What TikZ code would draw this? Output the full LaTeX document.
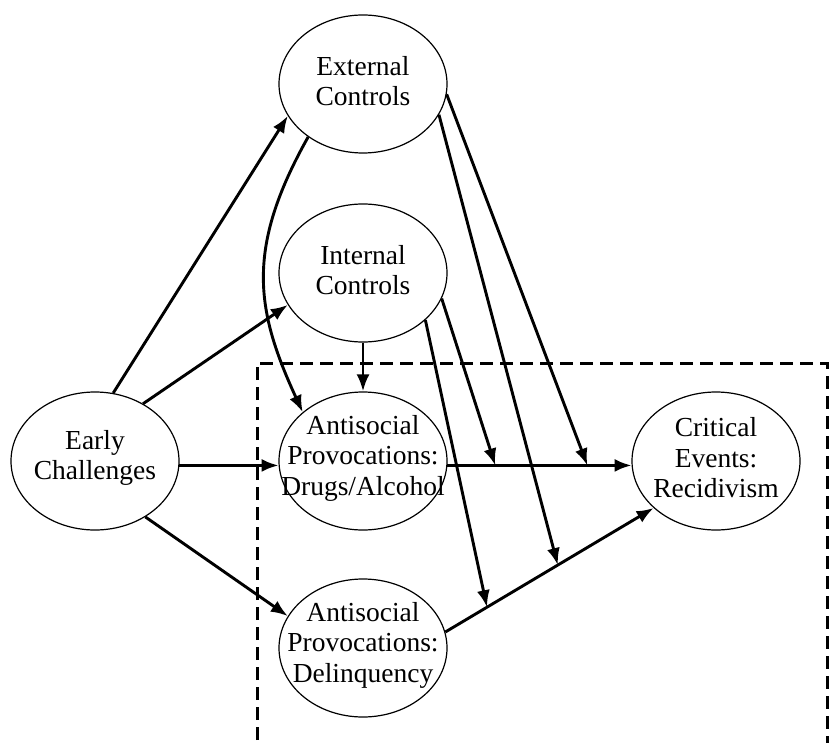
\documentclass[tikz,border=0pt]{standalone}
\usepackage{fontspec}
\setmainfont{Liberation Serif}
\usetikzlibrary{shapes.geometric,arrows.meta}
\begin{document}
\begin{tikzpicture}[x=1pt,y=-1pt,
 ell/.style={draw, ellipse, line width=1.2pt, minimum width=168pt, minimum height=138pt, inner sep=0pt},
 lbl/.style={align=center, font=\fontsize{27.5}{30.5}\selectfont, inner sep=0pt, yshift=3pt},
 arr/.style={line width=2.9pt, -{Latex[length=17pt,width=13pt]}},
 box/.style={line width=3pt, dash pattern=on 13pt off 7pt}]
\useasboundingbox (0,0) rectangle (829,743);
% dashed frame
\draw[box] (257,760) -- (257,363) -- (827,363) -- (827,760);
% ellipses
\node[ell] (ex) at (363,84) {};
\node[ell] (in) at (363,273) {};
\node[ell] (ec) at (95,461) {};
\node[ell] (dr) at (363,461) {};
\node[ell] (de) at (363,648) {};
\node[ell] (ce) at (716,461) {};
% labels
\node[lbl] (ext) at (ex) {External\\Controls};
\node[lbl] (int) at (in) {Internal\\Controls};
\node[lbl] (ect) at (ec) {Early\\Challenges};
\node[lbl] (drt) at (dr) {Antisocial\\Provocations:\\Drugs/Alcohol};
\node[lbl] (det) at (de) {Antisocial\\Provocations:\\Delinquency};
\node[lbl] (cet) at (ce) {Critical\\Events:\\Recidivism};
% main connectors
\draw[arr] (ec.75) -- (ex.203.5);
\draw[arr] (ec.50) -- (in.203);
\draw[arr] (ec.-3) -- (dr.183);
\draw[arr] (ec.-48.4) -- (de.157.4);
\draw[arr] (ex.224.5) .. controls +(-63,112) and +(-47,-102) .. (dr.141);
\draw[arr] (in.south) -- (dr.north);
\draw[arr] (dr.-3) -- coordinate[pos=0.26] (p1) coordinate[pos=0.76] (p2) (ce.183);
\draw[arr] (de.11) -- coordinate[pos=0.2] (q1) coordinate[pos=0.54] (q2) (ce.217.6);
% moderating connectors
\draw[arr] (in.-18) -- (p1);
\draw[arr] (in.-37) -- (q1);
\draw[arr] (ex.-22.7) -- (q2);
\draw[arr] (ex.-7.6) -- (p2);
\end{tikzpicture}
\end{document}
